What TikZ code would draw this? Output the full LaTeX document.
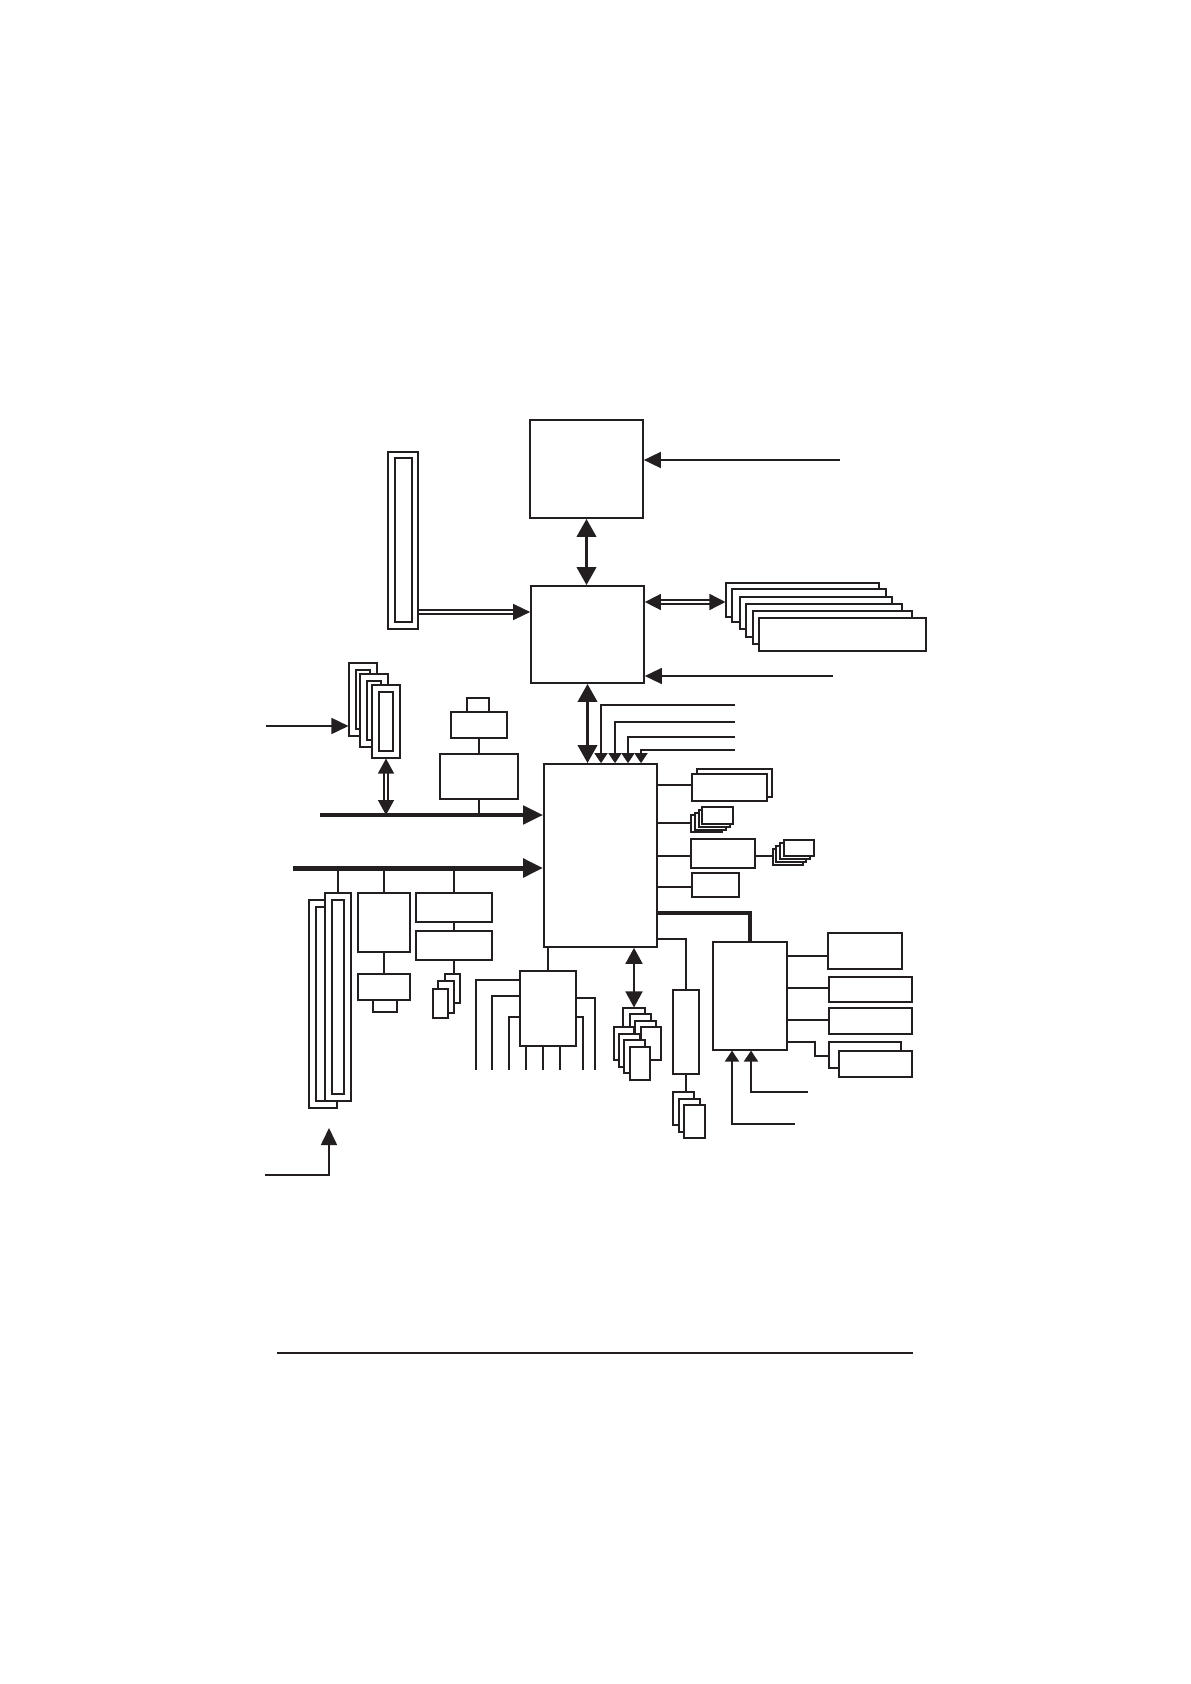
\documentclass[tikz,border=0pt]{standalone}
\usetikzlibrary{arrows.meta, fit}
\definecolor{ink}{RGB}{35,31,32}

\tikzset{
  box/.style={draw=ink, line width=0.55pt, fill=white, inner sep=0pt},
  chip/.style={box, line width=0.85pt},
  wire/.style={draw=ink, line width=0.85pt},
  bus/.style={draw=ink, line width=2.2pt, -{Triangle[length=10pt,width=9pt]}},
  bigtip/.style={-{Triangle[length=8.5pt,width=8pt]}},
  midtip/.style={-{Triangle[length=5.5pt,width=7pt]}},
  smalltip/.style={-{Triangle[length=5pt,width=6.5pt]}},
  thickarr/.style={draw=ink, line width=1.8pt, {Triangle[length=9pt,width=9.5pt]}-{Triangle[length=9pt,width=9.5pt]}},
  medarr/.style={draw=ink, line width=0.9pt, {Triangle[length=8pt,width=8.5pt]}-{Triangle[length=8pt,width=8.5pt]}},
  dbl/.style={draw=ink, double=white, double distance=1.4pt, line width=0.75pt},
}

\begin{document}
\begin{tikzpicture}[x=0.5pt, y=-0.5pt]
\fill[white] (0,0) rectangle (1190,1684);
\useasboundingbox (0,0) rectangle (1190,1684);

% processor, north bridge, south bridge
\node[chip, fit={(530,420) (643,518)}] (cpu) {};
\node[chip, fit={(531,586) (644,683)}] (nb) {};
\node[chip, fit={(544,764) (657,947)}] (sb) {};

\coordinate (fsb) at (840,460);
\draw[wire, bigtip] (fsb) -- (fsb -| cpu.east);
\draw[thickarr] (cpu.south) -- (cpu.south |- nb.north);
\draw[thickarr] (nb.south) -- (nb.south |- sb.north);

% agp slot
\node[box, fit={(388,452) (418,629)}] (agp) {};
\node[box, fit={(395,458) (412,622)}] (agpin) {};
\draw[dbl, bigtip] (agp.east |- 0,612) -- (nb.west |- 0,612);

% memory modules
\foreach \i/\xa/\ya/\xb/\yb in {1/726/583/879/617, 2/732/589/886/622, 3/740/597/892/629,
    4/746/604/902/637, 5/753/611/912/644, 6/759/618/926/651}
  \node[box, fit={(\xa,\ya) (\xb,\yb)}] (mem\i) {};
\draw[dbl, {Triangle[length=8pt,width=8pt]}-{Triangle[length=8pt,width=8pt]}]
  (nb.east |- 0,602) -- (mem1.west |- 0,602);

\coordinate (fnb) at (833,676);
\draw[wire, bigtip] (fnb) -- (fnb -| nb.east);

% inputs on top of south bridge
\foreach \i/\xs/\ys in {1/601/705, 2/615/722, 3/628/737, 4/641/750} {
  \coordinate (sin\i) at (735,\ys);
  \draw[wire, smalltip] (sin\i) -| (sb.north -| \xs,0);
}

% small slots with double arrow
\foreach \i/\xa/\ya in {1/349/663, 2/360/674, 3/372/685} {
  \node[box, fit={(\xa,\ya) (\xa+28,\ya+73)}] (dimm\i) {};
  \node[box, fit={(\xa+7,\ya+7) (\xa+21,\ya+66)}] (dimmin\i) {};
}
\coordinate (fdimm) at (266,726);
\draw[wire, bigtip] (fdimm) -- (fdimm -| dimm1.west);

% first bus
\coordinate (busA) at (320,815);
\draw[bus] (busA) -- (busA -| sb.west);
\draw[dbl, line width=0.7pt, {Triangle[length=7.5pt,width=8pt]}-{Triangle[length=7.5pt,width=8pt]}]
  (dimm3.south) -- (dimm3.south |- busA);

\node[box, fit={(467,698) (489,712)}] (xtal) {};
\node[box, fit={(451,712) (507,738)}] (clk) {};
\node[box, fit={(440,754) (518,799)}] (ctl) {};
\draw[wire] (clk.south) -- (ctl.north);
\draw[wire] (ctl.south) -- (ctl.south |- busA);

% second bus
\coordinate (busB) at (293,868);
\draw[bus, line width=2.5pt] (busB) -- (busB -| sb.west);

\node[box, fit={(309,900) (337,1108)}] (pci1) {};
\node[box, fit={(316,907) (330,1101)}] (pciin1) {};
\node[box, fit={(325,893) (351,1101)}] (pci2) {};
\node[box, fit={(332,900) (344,1094)}] (pciin2) {};
\draw[wire] (pci2.north |- busB) -- (pci2.north);

\node[box, fit={(358,893) (410,952)}] (lan) {};
\node[box, fit={(358,974) (410,1000)}] (phy) {};
\node[box, fit={(373,1000) (397,1012)}] (rj) {};
\draw[wire] (lan.north |- busB) -- (lan.north);
\draw[wire] (lan.south) -- (phy.north);

\node[box, fit={(416,893) (492,922)}] (ac) {};
\node[box, fit={(416,931) (492,960)}] (cdc) {};
\draw[wire] (ac.north |- busB) -- (ac.north);
\draw[wire] (ac.south) -- (cdc.north);
\foreach \i/\xa/\ya/\xb/\yb in {1/445/974/460/1003, 2/438/981/454/1013, 3/433/989/448/1018}
  \node[box, fit={(\xa,\ya) (\xb,\yb)}] (jack\i) {};
\draw[wire] (cdc.south) -- (cdc.south |- jack1.north);

% io controller below south bridge
\node[box, fit={(520,971) (576,1046)}] (ioc) {};
\draw[wire] (ioc.north |- sb.south) -- (ioc.north);
\coordinate (pa1) at (476,1070);
\coordinate (pa2) at (492,1070);
\coordinate (pa3) at (509,1070);
\draw[wire] (ioc.west |- 0,980) -| (pa1);
\draw[wire] (ioc.west |- 0,996) -| (pa2);
\draw[wire] (ioc.west |- 0,1017) -| (pa3);
\foreach \i/\xs in {1/526, 2/543, 3/560} {
  \coordinate (pb\i) at (\xs,1070);
  \draw[wire] (pb\i |- ioc.south) -- (pb\i);
}
\coordinate (pc1) at (595,1070);
\coordinate (pc2) at (583,1070);
\draw[wire] (ioc.east |- 0,998) -| (pc1);
\draw[wire] (ioc.east |- 0,1017) -| (pc2);

% usb ports
\foreach \i/\xa/\ya/\xb/\yb in {1/623/1008/645/1041, 2/630/1014/651/1047, 3/635/1021/656/1054,
    4/641/1027/661/1060, 5/614/1027/634/1060, 6/619/1034/640/1067, 7/624/1040/645/1073,
    8/630/1047/650/1080}
  \node[box, fit={(\xa,\ya) (\xb,\yb)}] (usb\i) {};
\draw[medarr] (usb1.north |- sb.south) -- (usb1.north);

% right side of south bridge
\node[box, fit={(697,769) (772,797)}] (ata2) {};
\node[box, fit={(692,774) (767,801)}] (ata1) {};
\draw[wire] (sb.east |- 0,785) -- (ata1.west |- 0,785);

\foreach \i/\xa/\ya in {1/691/815, 2/695/813, 3/699/810, 4/702/807}
  \node[box, fit={(\xa,\ya) (\xa+31,\ya+17)}] (sata\i) {};
\draw[wire] (sb.east |- 0,823) -- (sata1.west |- 0,823);

\node[box, fit={(691,839) (755,868)}] (raid) {};
\draw[wire] (sb.east |- 0,856) -- (raid.west |- 0,856);
\foreach \i/\xa/\ya in {1/773/849, 2/776/846, 3/780/843, 4/784/840}
  \node[box, fit={(\xa,\ya) (\xa+30,\ya+16)}] (rport\i) {};
\draw[wire] (raid.east |- 0,856) -- (rport1.west |- 0,856);

\node[box, fit={(692,873) (739,897)}] (smb) {};
\draw[wire, line width=1.4pt] (sb.east |- 0,887) -- (smb.west |- 0,887);

\node[box, fit={(713,942) (787,1050)}] (sio) {};
\draw[wire, line width=2pt] (sb.east |- 0,913) -| (sio.north);

\node[box, fit={(673,990) (699,1074)}] (bios) {};
\draw[wire] (sb.east |- 0,939) -| (bios.north);
\foreach \i/\xa/\ya in {1/673/1092, 2/679/1099, 3/684/1105}
  \node[box, fit={(\xa,\ya) (\xa+21,\ya+33)}] (fan\i) {};
\draw[wire] (bios.south) -- (bios.south |- fan1.north);

% super io ports
\node[box, fit={(828,933) (902,969)}] (kbd) {};
\node[box, fit={(829,977) (912,1002)}] (fdd) {};
\node[box, fit={(829,1008) (912,1034)}] (lpt) {};
\node[box, fit={(829,1042) (901,1068)}] (com1) {};
\node[box, fit={(839,1051) (912,1077)}] (com2) {};
\draw[wire] (sio.east |- 0,956) -- (kbd.west |- 0,956);
\draw[wire] (sio.east |- 0,988) -- (fdd.west |- 0,988);
\draw[wire] (sio.east |- 0,1020) -- (lpt.west |- 0,1020);
\draw[wire] (sio.east |- 0,1042) -- (815,1042) |- (com1.west |- 0,1056);

\coordinate (fio1) at (795,1124);
\coordinate (fio2) at (808,1092);
\draw[wire, midtip] (fio1) -| (sio.south -| 732,0);
\draw[wire, midtip] (fio2) -| (sio.south -| 751,0);

% power input
\coordinate (fpw) at (265,1175);
\coordinate (tpw) at (329,1128);
\draw[wire, bigtip] (fpw) -| (tpw);

% rule
\coordinate (ruleL) at (277,1353);
\coordinate (ruleR) at (913,1353);
\draw[ink, line width=1.2pt] (ruleL) -- (ruleR);
\end{tikzpicture}
\end{document}
